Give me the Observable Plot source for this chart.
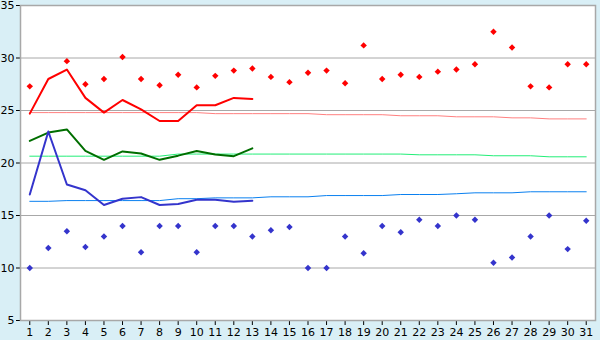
<!DOCTYPE html>
<html><head><meta charset="utf-8">
<script src="https://cdn.jsdelivr.net/npm/d3@7"></script>
<script src="https://cdn.jsdelivr.net/npm/@observablehq/plot@0.6"></script>
<style>
html,body{margin:0;padding:0;background:#d9eff6;}
</style></head><body><div id="chart"></div>
<script>
const days = [1,2,3,4,5,6,7,8,9,10,11,12,13,14,15,16,17,18,19,20,21,22,23,24,25,26,27,28,29,30,31];
const yTicks = [5,10,15,20,25,30,35];
const gridValues = [10,15,20,25,30];

// daily maximum / minimum (markers); day 2 maximum not shown in the reference
const maxTemp = [27.3,null,29.7,27.5,28.0,30.1,28.0,27.4,28.4,27.2,28.3,28.8,29.0,28.2,27.7,28.6,28.8,27.6,31.2,28.0,28.4,28.2,28.7,28.9,29.4,32.5,31.0,27.3,27.2,29.4,29.4];
const minTemp = [10.0,11.9,13.5,12.0,13.0,14.0,11.5,14.0,14.0,11.5,14.0,14.0,13.0,13.6,13.9,10.0,10.0,13.0,11.4,14.0,13.4,14.6,14.0,15.0,14.6,10.5,11.0,13.0,15.0,11.8,14.5];

// thick lines (days 1-13)
const lineDays = [1,2,3,4,5,6,7,8,9,10,11,12,13];
const redLine   = [24.7,28.0,28.9,26.2,24.8,26.0,25.1,24.0,24.0,25.5,25.5,26.2,26.1];
const greenLine = [22.1,22.9,23.2,21.15,20.3,21.1,20.9,20.3,20.7,21.15,20.8,20.65,21.4];
const blueLine  = [17.0,23.0,17.95,17.4,16.0,16.6,16.75,16.0,16.1,16.5,16.5,16.3,16.4];

// normals (thin lines)
const normalMax  = [24.8,24.8,24.8,24.8,24.8,24.8,24.8,24.8,24.8,24.8,24.7,24.7,24.7,24.7,24.7,24.7,24.6,24.6,24.6,24.6,24.5,24.5,24.5,24.4,24.4,24.4,24.3,24.3,24.2,24.2,24.2];
const normalMean = [20.65,20.65,20.65,20.65,20.65,20.65,20.65,20.65,20.85,20.85,20.85,20.85,20.85,20.85,20.85,20.85,20.85,20.85,20.85,20.85,20.85,20.78,20.78,20.78,20.78,20.69,20.69,20.69,20.59,20.59,20.59];
const normalMin  = [16.35,16.35,16.42,16.42,16.42,16.42,16.42,16.42,16.6,16.6,16.68,16.68,16.68,16.78,16.78,16.78,16.9,16.9,16.9,16.9,17.0,17.0,17.0,17.07,17.16,17.16,17.16,17.26,17.26,17.26,17.26];

const pts = (xs, ys) => xs.map((d, i) => ({day: d, v: ys[i]})).filter(p => p.v != null);

const chart = Plot.plot({
  width: 600, height: 340,
  marginLeft: 20, marginRight: 5, marginTop: 5, marginBottom: 20,
  style: {background: "#d9eff6", fontFamily: "DejaVu Sans", fontSize: "11px", color: "#000"},
  x: {domain: [0.5, 31.5], ticks: days, tickFormat: d => String(d), label: null, tickSize: 5, tickPadding: 3},
  y: {domain: [5, 35], ticks: yTicks, label: null, tickSize: 4, tickPadding: 2},
  marks: [
    Plot.frame({fill: "white", stroke: "#a8a8a8", strokeWidth: 1.5}),
    Plot.ruleY(gridValues, {stroke: "#a8a8a8", strokeWidth: 1}),
    Plot.line(pts(days, normalMax),  {x: "day", y: "v", stroke: "#ff8080", strokeWidth: 1}),
    Plot.line(pts(days, normalMean), {x: "day", y: "v", stroke: "#22ee77", strokeWidth: 1}),
    Plot.line(pts(days, normalMin),  {x: "day", y: "v", stroke: "#0a80f0", strokeWidth: 1}),
    Plot.line(pts(lineDays, redLine),   {x: "day", y: "v", stroke: "#ff0000", strokeWidth: 2}),
    Plot.line(pts(lineDays, greenLine), {x: "day", y: "v", stroke: "#006e00", strokeWidth: 2}),
    Plot.line(pts(lineDays, blueLine),  {x: "day", y: "v", stroke: "#3434cc", strokeWidth: 2}),
    Plot.dot(pts(days, maxTemp), {x: "day", y: "v", symbol: "diamond2", r: 2.9, fill: "#ff0000", stroke: "none"}),
    Plot.dot(pts(days, minTemp), {x: "day", y: "v", symbol: "diamond2", r: 2.9, fill: "#3434cc", stroke: "none"})
  ]
});
document.getElementById("chart").appendChild(chart);
</script></body></html>
